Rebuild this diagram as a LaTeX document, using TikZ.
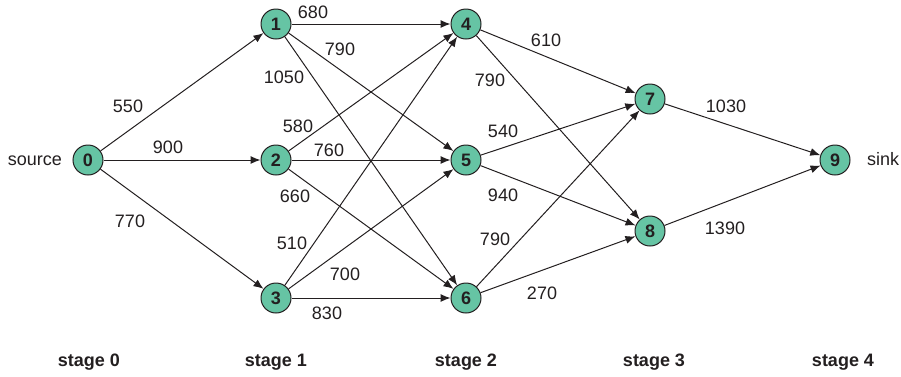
\documentclass[tikz,border=0pt]{standalone}
\usepackage{fontspec}
\setmainfont{Liberation Sans}
\usetikzlibrary{arrows.meta}
\definecolor{nodefill}{RGB}{102,196,164}
\definecolor{ink}{RGB}{35,31,32}
\tikzset{
  vtx/.style={circle,draw=ink,line width=1pt,fill=nodefill,minimum size=30pt,inner sep=0pt,font=\fontsize{18}{20}\selectfont\bfseries,text=ink},
  lbl/.style={font=\fontsize{18}{20}\selectfont,text=ink,inner sep=0pt},
  stagelbl/.style={font=\fontsize{18}{20}\selectfont\bfseries,text=ink,inner sep=0pt},
  edge/.style={draw=ink,line width=1pt,-{Latex[length=10pt,width=8pt]}}
}
\begin{document}
\begin{tikzpicture}[x=1pt,y=-1pt]
\useasboundingbox (0,0) rectangle (901,376);
\node[vtx] (n0) at (88,160) {0};
\node[vtx] (n1) at (276,24) {1};
\node[vtx] (n2) at (276,160) {2};
\node[vtx] (n3) at (276,298) {3};
\node[vtx] (n4) at (466,24) {4};
\node[vtx] (n5) at (466,160) {5};
\node[vtx] (n6) at (466,298) {6};
\node[vtx] (n7) at (650,99) {7};
\node[vtx] (n8) at (650,231) {8};
\node[vtx] (n9) at (835,160) {9};
\foreach \a/\b in {n0/n1,n0/n2,n0/n3,n1/n4,n1/n5,n1/n6,n2/n4,n2/n5,n2/n6,n3/n4,n3/n5,n3/n6,n4/n7,n4/n8,n5/n7,n5/n8,n6/n7,n6/n8,n7/n9,n8/n9}
  \draw[edge] (\a) -- (\b);
\node[lbl,anchor=east] (src) at (62,161) {source};
\node[lbl,anchor=west] (snk) at (867,159) {sink};
\node[lbl] (w01) at (128,106) {550};
\node[lbl] (w02) at (168,147) {900};
\node[lbl] (w03) at (130,221) {770};
\node[lbl] (w14) at (313,12) {680};
\node[lbl] (w15) at (340,49) {790};
\node[lbl] (w16) at (284,77) {1050};
\node[lbl] (w24) at (298,126) {580};
\node[lbl] (w25) at (329,150) {760};
\node[lbl] (w26) at (295,196) {660};
\node[lbl] (w34) at (292,243) {510};
\node[lbl] (w35) at (345,274) {700};
\node[lbl] (w36) at (327,313) {830};
\node[lbl] (w47) at (546,40) {610};
\node[lbl] (w48) at (490,80) {790};
\node[lbl] (w57) at (503,131) {540};
\node[lbl] (w58) at (503,195) {940};
\node[lbl] (w67) at (495,239) {790};
\node[lbl] (w68) at (542,293) {270};
\node[lbl] (w79) at (726,106) {1030};
\node[lbl] (w89) at (725,228) {1390};
\node[stagelbl] (s0) at (89,362) {stage 0};
\node[stagelbl] (s1) at (276,362) {stage 1};
\node[stagelbl] (s2) at (466,362) {stage 2};
\node[stagelbl] (s3) at (654,362) {stage 3};
\node[stagelbl] (s4) at (843,362) {stage 4};
\end{tikzpicture}
\end{document}
